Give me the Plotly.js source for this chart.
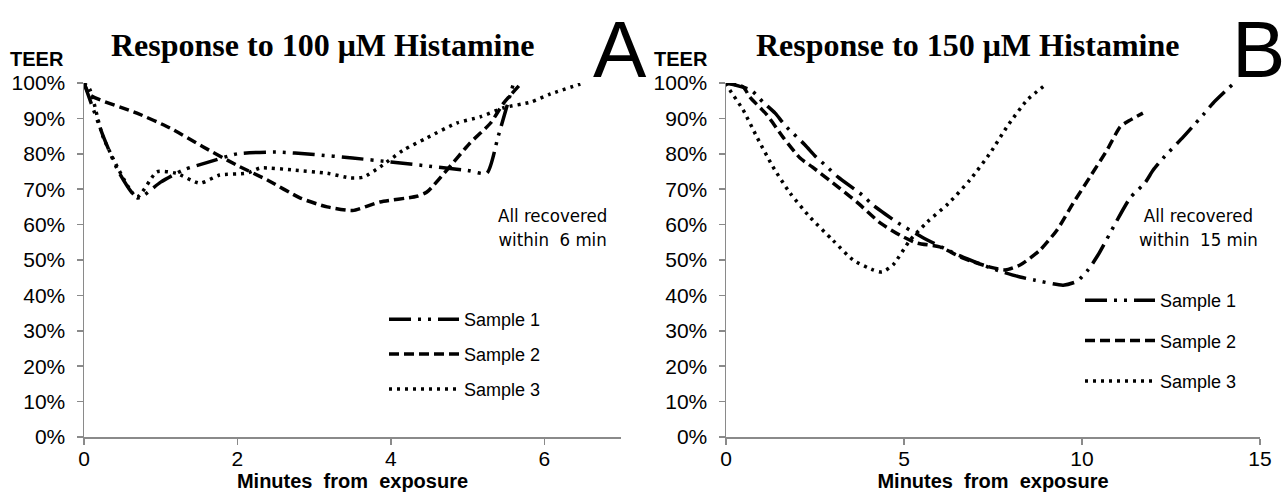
<!DOCTYPE html>
<html>
<head>
<meta charset="utf-8">
<script src="https://cdn.plot.ly/plotly-3.0.1.min.js"></script>
<style>html,body{margin:0;padding:0;background:#fff;}#chart{width:1285px;height:492px;}</style>
</head>
<body>
<div id="chart"></div>
<script>
// ---- Data: panel A (100 µM histamine) ----
const aS1x = [0, 0.25, 0.45, 0.7, 1.0, 1.3, 1.6, 2.0, 2.5, 3.0, 3.5, 4.0, 4.5, 5.0, 5.25, 5.4, 5.6];
const aS1y = [100, 85, 75, 67.5, 72, 75.5, 77.5, 80, 80.5, 79.8, 78.8, 77.7, 76.5, 75.3, 74.5, 85, 100];
const aS2x = [0, 0.08, 0.69, 1.12, 1.55, 1.99, 2.39, 2.82, 3.17, 3.5, 3.86, 4.34, 4.47, 4.73, 5.03, 5.3, 5.47, 5.69];
const aS2y = [100, 96.6, 91.5, 87.3, 82, 76.8, 72.6, 67.5, 65, 64, 66.4, 68, 69.2, 75.4, 83, 88.7, 94.3, 99.7];
const aS3x = [0, 0.08, 0.25, 0.69, 0.95, 1.2, 1.51, 1.77, 2.12, 2.3, 2.73, 3.17, 3.47, 3.64, 3.86, 4.16, 4.47, 4.86, 5.16, 5.47, 5.82, 6.08, 6.47];
const aS3y = [100, 98, 84.7, 67.8, 74.9, 74.5, 71.7, 74, 74.5, 76, 75.4, 74.5, 73.2, 73.4, 76.3, 81, 84.5, 88.7, 90.4, 93, 94.6, 96.9, 99.7];

// ---- Data: panel B (150 µM histamine) ----
const bS1x = [0, 0.7, 1.04, 1.38, 1.66, 2.22, 2.5, 2.84, 3.15, 3.82, 4.13, 4.47, 4.83, 5.5, 6.5, 7.5, 8.26, 8.68, 9.47, 9.86, 10.17, 10.45, 11.35, 11.77, 12.0, 12.28, 12.84, 13.1, 13.4, 13.68, 14.24];
const bS1y = [100, 98, 94.6, 91.5, 88, 82.5, 79.4, 76.3, 73.4, 68.4, 65.5, 63, 60.5, 56.5, 51.5, 47.5, 45.2, 44.3, 42.9, 44, 47.2, 51.4, 67.5, 71.8, 75.4, 78.8, 84.7, 87.6, 91, 94.3, 99.7];
const bS2x = [0, 0.48, 0.67, 1.15, 1.6, 2.08, 2.42, 3.0, 3.67, 4.33, 4.89, 5.36, 6.0, 6.66, 7.42, 7.84, 8.26, 8.82, 9.3, 9.75, 10.22, 10.7, 11.07, 11.26, 11.71];
const bS2y = [100, 98.9, 96, 91, 84.7, 78.8, 76.3, 71.8, 66.4, 60.5, 57, 54.8, 53.7, 50.5, 48, 47.2, 48.6, 52.8, 58.5, 66, 73.4, 81, 87.6, 89, 91.5];
const bS3x = [0, 0.11, 0.48, 0.87, 1.32, 1.8, 2.36, 3.0, 3.57, 4.13, 4.38, 4.69, 5.17, 5.65, 6.25, 6.85, 7.42, 7.89, 8.46, 9.0];
const bS3y = [100, 98, 92.4, 84.7, 76.3, 68.9, 62.1, 55.6, 50, 47.2, 46.6, 48.6, 55.6, 60.7, 66, 72.6, 80.2, 87.6, 95.2, 99.7];

const seriesNames = ["Sample 1", "Sample 2", "Sample 3"];
const titles = ["Response to 100 \u03bcM Histamine", "Response to 150 \u03bcM Histamine"];
const xTitle = "Minutes  from  exposure";
const yTitle = "TEER";
const notes = ["All recovered<br>within  6 min", "All recovered<br>within  15 min"];
const panelLetters = ["A", "B"];

// ---- styles ----
const W = 1285, H = 492;
const px = v => v / W, py = v => 1 - v / H;
const dashes = ["22px,7px,3px,7px,3px,7px", "10px,5px", "3px,5px"];
const widths = [3.5, 3.5, 3.5];

function mk(x, y, i, xa, ya, legend) {
  return {
    x: x, y: y, type: "scatter", mode: "lines", name: seriesNames[i],
    xaxis: xa, yaxis: ya, legend: legend, legendgroup: legend + i,
    line: {color: "#000", width: widths[i], dash: dashes[i], shape: "spline", smoothing: 0.6}
  };
}

const traces = [
  mk(aS1x, aS1y, 0, "x", "y", "legend"),
  mk(aS2x, aS2y, 1, "x", "y", "legend"),
  mk(aS3x, aS3y, 2, "x", "y", "legend"),
  mk(bS1x, bS1y, 0, "x2", "y2", "legend2"),
  mk(bS2x, bS2y, 1, "x2", "y2", "legend2"),
  mk(bS3x, bS3y, 2, "x2", "y2", "legend2")
];

const sans = "Liberation Sans, Arial";
const axisCommon = {
  showline: true, linecolor: "#8a8a8a", linewidth: 1.5, ticks: "outside", ticklen: 6,
  tickcolor: "#8a8a8a", tickwidth: 1.5, showgrid: false, zeroline: false,
  tickfont: {family: sans, size: 21, color: "#000"}
};
const yDomain = [1 - 437 / H, 1 - 83 / H];
const xTitleObj = {text: xTitle, font: {size: 20, family: sans, weight: "bold"}, standoff: 0};

function ann(text, x, y, font, extra) {
  return Object.assign({text: text, xref: "paper", yref: "paper", x: px(x), y: py(y),
    xanchor: "center", yanchor: "middle", showarrow: false, font: font}, extra || {});
}

const layout = {
  width: W, height: H, margin: {l: 0, r: 0, t: 0, b: 0},
  paper_bgcolor: "#fff", plot_bgcolor: "#fff", showlegend: true,
  font: {family: sans, color: "#000"},
  xaxis: Object.assign({}, axisCommon, {domain: [px(84), px(621)], range: [0, 7], dtick: 2, anchor: "y",
    ticklabelstandoff: -4, title: xTitleObj}),
  yaxis: Object.assign({}, axisCommon, {domain: yDomain, range: [0, 100], dtick: 10, ticksuffix: "%", anchor: "x",
    ticklabelstandoff: 7}),
  xaxis2: Object.assign({}, axisCommon, {domain: [px(726), px(1260)], range: [0, 15], dtick: 5, anchor: "y2",
    ticklabelstandoff: -4, title: xTitleObj}),
  yaxis2: Object.assign({}, axisCommon, {domain: yDomain, range: [0, 100], dtick: 10, ticksuffix: "%", anchor: "x2",
    ticklabelstandoff: 7}),
  legend: {x: px(384), y: py(301), xanchor: "left", yanchor: "top", bgcolor: "rgba(0,0,0,0)",
    font: {size: 18, color: "#000"}, tracegroupgap: 8.5, itemwidth: 70},
  legend2: {x: px(1080), y: py(282), xanchor: "left", yanchor: "top", bgcolor: "rgba(0,0,0,0)",
    font: {size: 18, color: "#000"}, tracegroupgap: 14, itemwidth: 70},
  annotations: [
    ann(titles[0], 322, 45, {family: "Liberation Serif, Times New Roman", size: 32, weight: "bold"}),
    ann(titles[1], 967, 45, {family: "Liberation Serif, Times New Roman", size: 32, weight: "bold"}),
    ann(yTitle, 37, 59, {size: 20, weight: "bold"}),
    ann(yTitle, 681, 59, {size: 20, weight: "bold"}),
    ann(panelLetters[0], 620, 49, {size: 80}),
    ann(panelLetters[1], 1258, 49, {size: 80}),
    ann(notes[0], 552, 227, {family: "DejaVu Sans Condensed, DejaVu Sans", size: 18.5}, {align: "center"}),
    ann(notes[1], 1198, 227, {family: "DejaVu Sans Condensed, DejaVu Sans", size: 18.5}, {align: "center"})
  ]
};

Plotly.newPlot("chart", traces, layout, {displayModeBar: false, staticPlot: true});
</script>
</body>
</html>
